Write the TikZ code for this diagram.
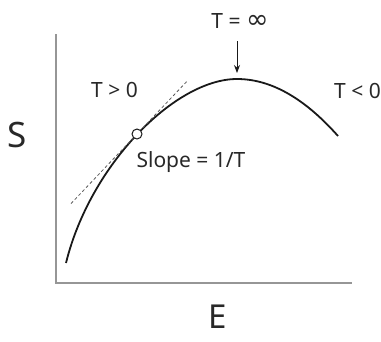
\documentclass[tikz,border=0pt]{standalone}
\usepackage{fontspec}
\setmainfont{Noto Sans}
\newfontfamily\symfont{DejaVu Sans}
\usetikzlibrary{arrows.meta, positioning}
\definecolor{axisgray}{RGB}{150,150,150}
\definecolor{curveblack}{RGB}{25,25,25}
\definecolor{textgray}{RGB}{40,40,40}

\begin{document}
\begin{tikzpicture}[x=1pt, y=-1pt,
    axis/.style={axisgray, line width=1.3pt},
    lbl/.style={font=\fontsize{21}{24}\selectfont, text=textgray, inner sep=0pt, anchor=base},
    biglbl/.style={font=\fontsize{35}{38}\selectfont, text=textgray, inner sep=0pt, anchor=base}]
  \useasboundingbox (0,0) rectangle (381,341);

  % 坐标轴
  \coordinate (origin) at (56,283);
  \coordinate (ytop) at (56,34);
  \coordinate (xend) at (352,283);
  \draw[axis] (ytop) -- (origin) -- (xend);
  \node[biglbl] (slbl) at (17.5,147) {S};
  \node[biglbl, font=\fontsize{33}{36}\selectfont] (elbl) at (218,328) {E};

  % S(E) 曲线
  \draw[curveblack, line width=1.8pt]
    (66,263) .. controls (90,165) and (175,79) .. (237,79)
    .. controls (270.7,79) and (304.3,98) .. (338,136);

  % 切线（斜率 1/T）
  \draw[axisgray!60!black, line width=0.8pt, dash pattern=on 3pt off 2.5pt]
    (71,203.6) -- (188,80.2);
  \node[circle, draw=curveblack, fill=white, line width=1pt,
    minimum size=10pt, inner sep=0pt] (tpt) at (137,134) {};

  % 标注
  \node[lbl] (tpos) at (114.5,97) {T > 0};
  \node[lbl] (tneg) at (357.5,98) {T < 0};
  \node[lbl] (slope) at (191,167) {Slope = 1/T};
  \node[lbl] (tinf) at (240,28) {T = {\symfont\fontsize{27}{27}\selectfont ∞}};

  % 峰值箭头
  \coordinate (peak) at (237,73);
  \draw[curveblack, line width=0.9pt, -{Stealth[length=8pt, width=6pt]},
    shorten <=13pt] (tinf.south -| peak) -- (peak);
\end{tikzpicture}
\end{document}
